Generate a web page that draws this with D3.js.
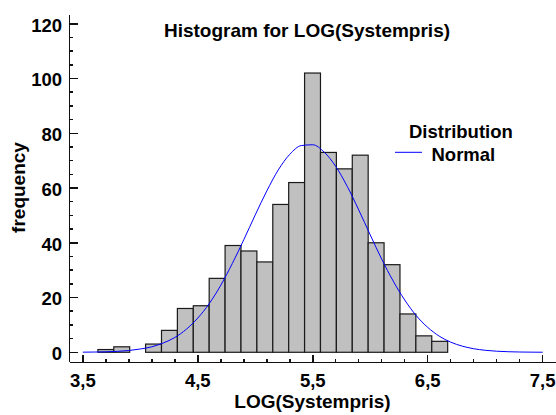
<!DOCTYPE html>
<meta charset="utf-8">
<style>
body { margin: 0; background: #fff; }
text { font-family: "Liberation Sans", Arial, sans-serif; font-weight: bold; fill: #000; }
.bar { fill: #c0c0c0; stroke: #1a1a1a; stroke-width: 1.2; }
.axis-line, .tick-line { stroke: #111; stroke-width: 1.5; shape-rendering: crispEdges; }
.normal { fill: none; stroke: #0000ff; stroke-width: 1; }
</style>
<body>
<div id="chart"></div>
<script src="https://cdn.jsdelivr.net/npm/d3@7"></script>
<script>

// histogram bins (LOG(Systempris))
var binStart = 3.631;
var binWidth = 0.1383;
var counts = [1, 2, 0, 3, 8, 16, 17, 27, 39, 37, 33, 54, 62, 102, 73, 67, 72, 40, 32, 14, 6, 4];

// fitted normal curve
var normalX = [3.5, 3.6, 3.7, 3.8, 3.9, 4.0, 4.1, 4.2, 4.3, 4.4, 4.5, 4.6, 4.7, 4.8, 4.9,
               5.0, 5.1, 5.2, 5.3, 5.4, 5.5, 5.6, 5.7, 5.8, 5.9, 6.0, 6.1, 6.2, 6.3, 6.4,
               6.5, 6.6, 6.7, 6.8, 6.9, 7.0, 7.1, 7.2, 7.3, 7.4, 7.5];
var normalY = [0.04, 0.09, 0.17, 0.34, 0.64, 1.2, 2.0, 3.4, 5.4, 8.4, 12.5, 17.8, 24.5, 32.4, 41.1,
               50.2, 58.9, 66.6, 72.3, 75.5, 75.8, 73.1, 67.9, 60.6, 52.0, 42.9, 34.0, 26.0, 19.1, 13.4,
               9.1, 5.9, 3.7, 2.25, 1.3, 0.73, 0.39, 0.2, 0.1, 0.05, 0.02];

// axis ticks
var xTicks = [3.5, 4.5, 5.5, 6.5, 7.5];
var yTicks = [0, 20, 40, 60, 80, 100, 120];

var width = 556, height = 415;

var x = d3.scaleLinear().domain([3.384, 7.616]).range([69.5, 556]);
var y = d3.scaleLinear().domain([-3.66, 123.2]).range([362.3, 15]);

var svg = d3.select("#chart").append("svg")
    .attr("width", width)
    .attr("height", height);

// bars
var bins = counts.map(function(c, i) {
  return { x0: binStart + i * binWidth, x1: binStart + (i + 1) * binWidth, n: c };
});

svg.selectAll(".bar")
    .data(bins.filter(function(d) { return d.n > 0; }))
  .enter().append("rect")
    .attr("class", "bar")
    .attr("x", function(d) { return x(d.x0); })
    .attr("y", function(d) { return y(d.n); })
    .attr("width", function(d) { return x(d.x1) - x(d.x0); })
    .attr("height", function(d) { return y(0) - y(d.n); });

// normal curve
var line = d3.line()
    .x(function(d) { return x(d[0]); })
    .y(function(d) { return y(d[1]); })
    .curve(d3.curveMonotoneX);

svg.append("path")
    .datum(d3.zip(normalX, normalY))
    .attr("class", "normal")
    .attr("d", line);

// y axis
var y0 = y.range()[0];
svg.append("line").attr("class", "axis-line")
    .attr("x1", 69.5).attr("x2", 69.5)
    .attr("y1", y.range()[1]).attr("y2", y0);

svg.selectAll(".ytick-minor")
    .data(d3.range(0, 121, 5))
  .enter().append("line")
    .attr("class", "tick-line")
    .attr("x1", 69.5)
    .attr("x2", function(d) { return d % 20 === 0 ? 77.5 : 73; })
    .attr("y1", function(d) { return y(d); })
    .attr("y2", function(d) { return y(d); });

svg.selectAll(".ylabel")
    .data(yTicks)
  .enter().append("text")
    .attr("x", 62)
    .attr("y", function(d) { return y(d); })
    .attr("dy", "0.42em")
    .attr("text-anchor", "end")
    .style("font-size", "18.5px")
    .text(function(d) { return d; });

// x axis
svg.append("line").attr("class", "axis-line")
    .attr("x1", 69.5).attr("x2", 556)
    .attr("y1", y0).attr("y2", y0);

var xMinor = d3.range(0, 21).map(function(i) { return 3.5 + i * 0.2; });
svg.selectAll(".xtick")
    .data(xMinor)
  .enter().append("line")
    .attr("class", "tick-line")
    .attr("x1", function(d) { return x(d); })
    .attr("x2", function(d) { return x(d); })
    .attr("y1", y0)
    .attr("y2", function(d, i) { return i % 5 === 0 ? y0 - 7.5 : y0 - 3.5; });

svg.selectAll(".xlabel")
    .data(xTicks)
  .enter().append("text")
    .attr("x", function(d) { return x(d); })
    .attr("y", 387)
    .attr("text-anchor", "middle")
    .style("font-size", "18.5px")
    .text(function(d) { return d3.format(".1f")(d).replace(".", ","); });

// titles
svg.append("text")
    .attr("x", 307).attr("y", 36.7)
    .attr("text-anchor", "middle")
    .style("font-size", "19px")
    .text("Histogram for LOG(Systempris)");

svg.append("text")
    .attr("x", 312.5).attr("y", 408)
    .attr("text-anchor", "middle")
    .style("font-size", "19px")
    .text("LOG(Systempris)");

svg.append("text")
    .attr("transform", "translate(24.5,187.5) rotate(-90)")
    .attr("text-anchor", "middle")
    .style("font-size", "19px")
    .text("frequency");

// legend
svg.append("text")
    .attr("x", 409).attr("y", 138.3)
    .style("font-size", "18.5px")
    .text("Distribution");

svg.append("line")
    .attr("x1", 395).attr("x2", 422)
    .attr("y1", 152.3).attr("y2", 152.3)
    .style("stroke", "#0000ff")
    .style("stroke-width", 1);

svg.append("text")
    .attr("x", 431.5).attr("y", 161)
    .style("font-size", "18.5px")
    .text("Normal");

</script>
</body>
